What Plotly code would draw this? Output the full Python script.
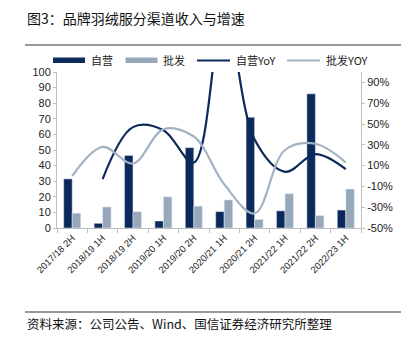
import plotly.graph_objects as go

categories = ["2017/18 2H", "2018/19 1H", "2018/19 2H", "2019/20 1H", "2019/20 2H",
              "2020/21 1H", "2020/21 2H", "2021/22 1H", "2021/22 2H", "2022/23 1H"]
self_rev = [31.5, 3, 46.5, 4.5, 51.5, 10.5, 71, 11, 86, 11.5]
whole_rev = [9.5, 13.5, 10.5, 20, 14, 18, 5.5, 22, 8, 25]
self_yoy = [None, -3, 47, 44, 13, 160, 35, 4, 21, 6.5]
whole_yoy = [0, 28, 12, 45, 38, -8, -36, 25, 31, 13]
left_ticks = list(range(0, 101, 10))
right_ticks = list(range(-50, 91, 20))
legend_names = ["自营", "批发", "自营YoY", "批发YOY"]

DARK = "#0b2a5b"
LIGHT = "#97a8bb"
LIGHT_LINE = "#a3b3c4"
AXIS = "#bfbfbf"

W, H = 407, 348
L, R, T, B = 57, 361, 72, 228

def px(x):
    return (x - L) / (R - L)

def py(y):
    return (B - y) / (B - T)

fig = go.Figure()
fig.add_bar(x=categories, y=self_rev, name=legend_names[0], marker_color=DARK)
fig.add_bar(x=categories, y=whole_rev, name=legend_names[1], marker_color=LIGHT)
fig.add_scatter(x=categories, y=self_yoy, name=legend_names[2], yaxis="y2", mode="lines",
                line=dict(color=DARK, width=2.2, shape="spline", smoothing=1.0),
                connectgaps=False)
fig.add_scatter(x=categories, y=whole_yoy, name=legend_names[3], yaxis="y2", mode="lines",
                line=dict(color=LIGHT_LINE, width=2.2, shape="spline", smoothing=1.0))

tick_font = dict(family="Liberation Sans, Arial, sans-serif", size=11, color="#222")
leg_font = dict(family="Noto Sans CJK SC", size=11, color="#222")

shapes = [
    dict(type="line", xref="paper", yref="paper", x0=px(25), x1=px(401), y0=py(45), y1=py(45),
         line=dict(color="#333", width=1)),
    dict(type="line", xref="paper", yref="paper", x0=px(25), x1=px(401), y0=py(312), y1=py(312),
         line=dict(color="#333", width=1)),
    # legend symbols
    dict(type="rect", xref="paper", yref="paper", x0=px(53), x1=px(85), y0=py(63), y1=py(57.5),
         fillcolor=DARK, line=dict(width=0)),
    dict(type="rect", xref="paper", yref="paper", x0=px(125.5), x1=px(157.5), y0=py(63), y1=py(57.5),
         fillcolor=LIGHT, line=dict(width=0)),
    dict(type="line", xref="paper", yref="paper", x0=px(197), x1=px(230), y0=py(60.5), y1=py(60.5),
         line=dict(color=DARK, width=2.2)),
    dict(type="line", xref="paper", yref="paper", x0=px(287), x1=px(320), y0=py(60.5), y1=py(60.5),
         line=dict(color=LIGHT_LINE, width=2.2)),
]

annotations = [
    dict(text="图3：品牌羽绒服分渠道收入与增速", xref="paper", yref="paper",
         x=px(25), y=py(18), xanchor="left", yanchor="middle", showarrow=False,
         font=dict(family="Noto Sans CJK SC", size=14, color="#111")),
    dict(text="资料来源：公司公告、Wind、国信证券经济研究所整理", xref="paper", yref="paper",
         x=px(25), y=py(323), xanchor="left", yanchor="middle", showarrow=False,
         font=dict(family="Noto Sans CJK SC", size=12.5, color="#111")),
]
for name, xpos in zip(legend_names, [89, 161, 234, 324]):
    annotations.append(dict(text=name, xref="paper", yref="paper", x=px(xpos), y=py(60),
                            xanchor="left", yanchor="middle", showarrow=False, font=leg_font))

fig.update_layout(
    width=W, height=H,
    margin=dict(l=L, r=W - R, t=T, b=H - B),
    paper_bgcolor="white", plot_bgcolor="white",
    barmode="group", bargap=0.44, bargroupgap=0,
    showlegend=False,
    xaxis=dict(type="category", showline=True, linecolor=AXIS, linewidth=1,
               ticks="outside", tickson="boundaries", ticklen=4, tickcolor=AXIS,
               tickangle=-45, tickfont=dict(family="Liberation Sans, Arial, sans-serif", size=9.5, color="#222"),
               showgrid=False, zeroline=False),
    yaxis=dict(range=[0, 100], tickvals=left_ticks, showline=True, linecolor=AXIS,
               ticks="outside", ticklen=3, tickcolor=AXIS, tickfont=tick_font,
               showgrid=False, zeroline=False),
    yaxis2=dict(range=[-50, 100], tickvals=right_ticks,
                ticktext=[f"{v}%" for v in right_ticks], overlaying="y", side="right",
                showline=True, linecolor=AXIS, ticks="outside", ticklen=3, tickcolor=AXIS,
                tickfont=tick_font, showgrid=False, zeroline=False),
    shapes=shapes,
    annotations=annotations,
)

fig.write_html("out.html")
